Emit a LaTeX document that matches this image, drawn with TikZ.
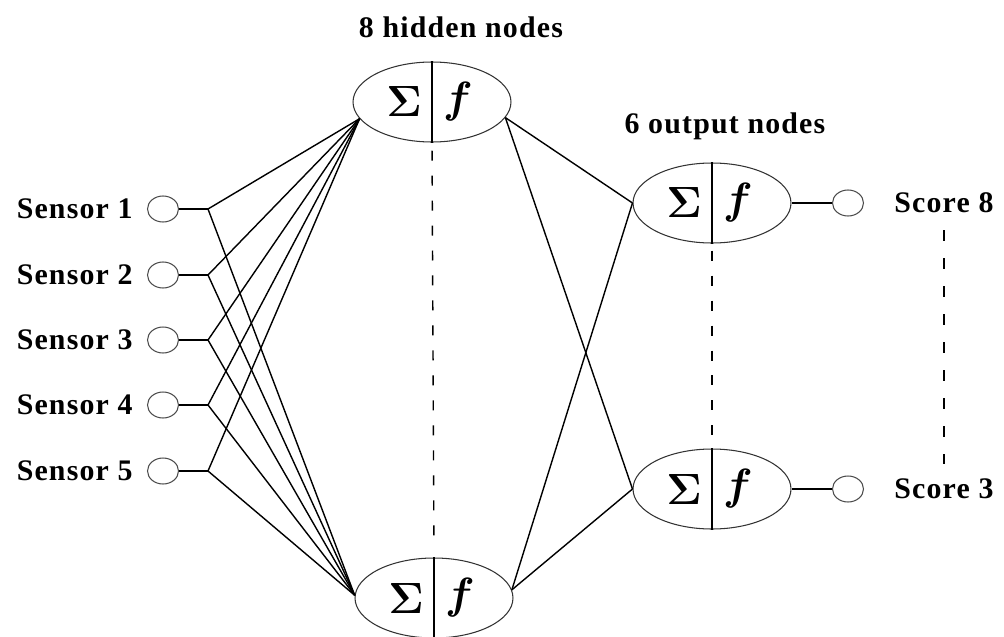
\documentclass[tikz,border=0pt]{standalone}
\usepackage{fontspec}
\setmainfont{Liberation Serif}[LetterSpace=4]
\usepackage{amsmath}
\usetikzlibrary{shapes.geometric,positioning}

\begin{document}
\begin{tikzpicture}[x=0.02cm,y=-0.02cm]

  \tikzstyle{neuron}=[ellipse,draw=black!80,line width=0.6pt,minimum width=3.16cm,minimum height=1.6cm,inner sep=0pt]
  \tikzstyle{port}=[ellipse,draw=black!70,line width=0.6pt,minimum width=0.62cm,minimum height=0.52cm,inner sep=0pt]
  \tikzstyle{texto}=[font=\bfseries\fontsize{17}{19}\selectfont,inner sep=0pt]
  \tikzstyle{simbolo}=[font=\fontsize{24}{26}\selectfont,inner sep=0pt]
  \tikzstyle{wire}=[line width=0.8pt]
  \tikzstyle{gap}=[line width=0.8pt,dash pattern=on 0.2cm off 0.3cm]

  \useasboundingbox (0,0) rectangle (1004,636);

  \begin{scope}

    % hidden and output layers
    \node [neuron] (h1) at (432,102) {};
    \node [neuron] (h2) at (434,598) {};
    \node [neuron] (o1) at (712,203) {};
    \node [neuron] (o2) at (712,489) {};

    \foreach \n in {h1,h2,o1,o2}{
      \node [simbolo,xshift=-0.56cm] (\n-s) at (\n) {$\boldsymbol{\Sigma}$};
      \node [simbolo,xshift=0.52cm] (\n-f) at (\n) {$\boldsymbol{f}$};
      \draw [wire] (\n.north) -- (\n.south);
    }

    % sensors
    \foreach \i/\y in {1/209,2/275,3/340,4/405,5/471}{
      \node [port] (s\i) at (163,\y) {};
      \node [texto,left=0.28cm of s\i] (t\i) {Sensor \i};
      \coordinate (j\i) at (208,\y);
      \draw [wire] (s\i) -- (j\i);
      \draw [wire] (j\i) -- (h1.193);
      \draw [wire] (j\i) -- (h2.178);
    }

    \draw [wire] (h1.348) -- (o1.180);
    \draw [wire] (h1.348) -- (o2.180);
    \draw [wire] (h2.6) -- (o1.180);
    \draw [wire] (h2.6) -- (o2.180);

    % scores
    \node [port] (c1) at (848,203) {}
    edge [wire] (o1);
    \node [port] (c2) at (848,489) {}
    edge [wire] (o2);

    \node [texto,right=0.6cm of c1] (sc8) {Score 8};
    \node [texto,right=0.6cm of c2] (sc3) {Score 3};

    \draw [gap,shorten <=0.16cm,shorten >=0.16cm] (h1.south) -- (h2.north);
    \draw [gap,shorten <=0.14cm] (o1.south) -- (o2.north);
    \draw [gap,dash pattern=on 0.22cm off 0.34cm,shorten <=0.34cm,shorten >=0.3cm] (sc8.south) -- (sc3.north);

    \node [texto] (p1) at (461,27) {8 hidden nodes};
    \node [texto] (p2) at (725,126) {6 output nodes};

  \end{scope}

\end{tikzpicture}
\end{document}
